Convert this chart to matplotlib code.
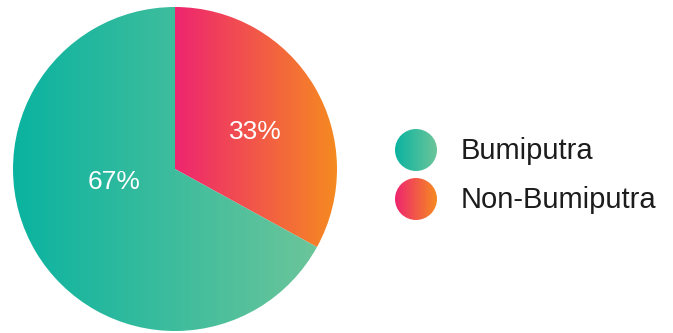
import numpy as np
import matplotlib.pyplot as plt
from matplotlib.colors import LinearSegmentedColormap
from matplotlib.patches import Circle

labels = ["Bumiputra", "Non-Bumiputra"]
shares = [67, 33]
grad_stops = [("#0ab3a0", "#6cc59a"), ("#ee2570", "#f68b20")]

plt.rcParams["font.family"] = ["Liberation Sans", "DejaVu Sans"]

fig = plt.figure(figsize=(6.73, 3.33), dpi=100)
ax = fig.add_axes([0, 0, 1, 1])

cx, cy, r = 175, 164, 162

# pink slice starts at 12 o'clock and runs clockwise
order = [1, 0]
wedges, _ = ax.pie([shares[i] for i in order], center=(cx, cy), radius=r,
                   startangle=90, counterclock=False, frame=True,
                   wedgeprops=dict(facecolor="none", edgecolor="none"))
ax.set_xlim(0, 673)
ax.set_ylim(0, 333)
ax.set_aspect("equal")
ax.axis("off")


def gradient_fill(patch, stops, x0, x1, y0, y1):
    cmap = LinearSegmentedColormap.from_list("g", stops)
    grad = np.linspace(0, 1, 256).reshape(1, -1)
    im = ax.imshow(grad, cmap=cmap, extent=(x0, x1, y0, y1), aspect="auto",
                   interpolation="bilinear", zorder=1)
    im.set_clip_path(patch)


for w, i in zip(wedges, order):
    verts = w.get_path().vertices
    tv = w.get_transform().transform(verts)
    tv = ax.transData.inverted().transform(tv)
    gradient_fill(w, grad_stops[i], tv[:, 0].min(), tv[:, 0].max(),
                  tv[:, 1].min(), tv[:, 1].max())

# percentage labels
label_pos = {0: (114, 333 - 182), 1: (255, 333 - 132)}
for i in range(len(shares)):
    ax.text(*label_pos[i], f"{shares[i]}%", color="white", fontsize=19,
            ha="center", va="center", zorder=3)

# legend with gradient dots
for i, name in enumerate(labels):
    ly = 333 - 150 - i * 49
    c = Circle((416, ly), 21, facecolor="none", edgecolor="none")
    ax.add_patch(c)
    gradient_fill(c, grad_stops[i], 395, 437, ly - 21, ly + 21)
    ax.text(461, ly - 1, name, fontsize=21, color="#1c1c1c", va="center", ha="left")

fig.savefig("out.png", dpi=100)
